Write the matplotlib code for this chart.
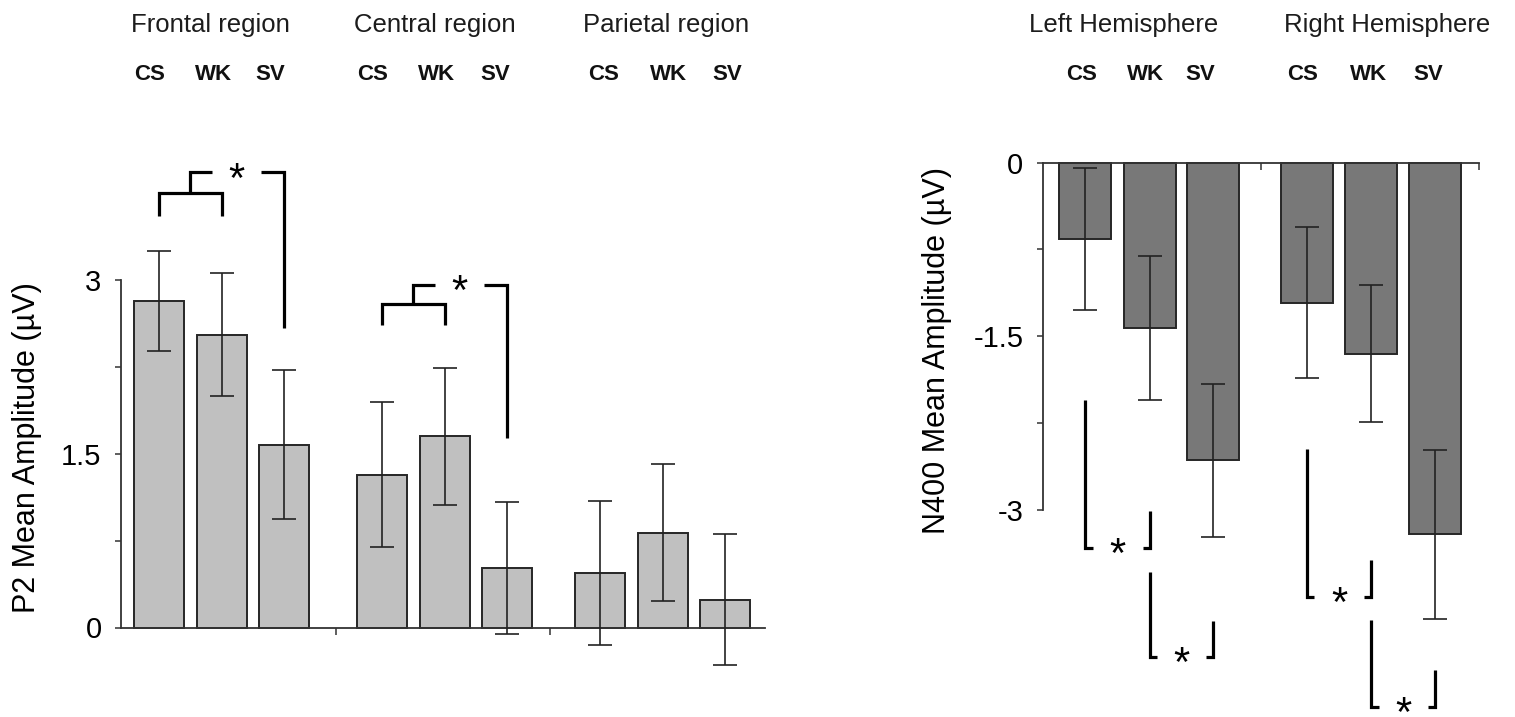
import matplotlib
matplotlib.use('Agg')
import matplotlib.pyplot as plt
import numpy as np

plt.rcParams['font.family'] = ['Liberation Sans', 'DejaVu Sans']

# ---------------- data ----------------
conditions = ['CS', 'WK', 'SV']
regions = ['Frontal region', 'Central region', 'Parietal region']
hemispheres = ['Left Hemisphere', 'Right Hemisphere']

# P2 mean amplitude (uV) per region: frontal, central, parietal
p2_cs = [2.82, 1.32, 0.47]
p2_wk = [2.53, 1.65, 0.82]
p2_sv = [1.58, 0.51, 0.24]
p2_cs_err = [0.435, 0.625, 0.62]
p2_wk_err = [0.535, 0.59, 0.59]
p2_sv_err = [0.645, 0.57, 0.565]

# N400 mean amplitude (uV) per hemisphere: left, right
n4_cs = [-0.66, -1.21]
n4_wk = [-1.43, -1.65]
n4_sv = [-2.57, -3.21]
n4_cs_err = [0.61, 0.65]
n4_wk_err = [0.62, 0.59]
n4_sv_err = [0.66, 0.73]

# significance brackets (P2): group, bar level, legs end, top level, SV leg end
p2_brackets = [(0, 3.75, 3.55, 3.93, 2.59), (1, 2.79, 2.61, 2.96, 1.64)]
# significance brackets (N400): group, cond i, cond j, left top, right top, bottom
n4_brackets = [(0, 0, 1, -2.05, -3.01, -3.33), (0, 1, 2, -3.54, -3.96, -4.27),
               (1, 0, 1, -2.47, -3.43, -3.75), (1, 1, 2, -3.95, -4.38, -4.70)]

# ---------------- layout ----------------
W, H = 1515, 717
fig = plt.figure(figsize=(W / 100, H / 100), dpi=100)


def axes_px(x0, x1, y_lo_px, y_hi_px):
    return fig.add_axes([x0 / W, 1 - y_lo_px / H, (x1 - x0) / W, (y_lo_px - y_hi_px) / H])

py_scale = 115.8
yl_left = (-0.75, 5.0)
axL = axes_px(121, 765, 627.5 - yl_left[0] * py_scale, 627.5 - yl_left[1] * py_scale)
axL.set_xlim(0, 3)
axL.set_ylim(*yl_left)

yl_right = (-4.85, 1.0)
axR = axes_px(1042.7, 1479, 162.5 - yl_right[0] * py_scale, 162.5 - yl_right[1] * py_scale)
axR.set_xlim(0, 2)
axR.set_ylim(*yl_right)

offsets = np.array([0.20, 0.495, 0.785])
shiftL = [-0.025, 0.015, 0.03]
shiftR = [-0.004, 0.012]

edge = '#262626'
ecol = '#222222'


def pos(g, j, shifts):
    return g + offsets[j] + shifts[g]


# ---- left bars ----
for j, (vals, errs) in enumerate(zip([p2_cs, p2_wk, p2_sv], [p2_cs_err, p2_wk_err, p2_sv_err])):
    xs = [pos(g, j, shiftL) for g in range(len(regions))]
    axL.bar(xs, vals, width=0.233, color='#c0c0c0', edgecolor=edge, linewidth=1.4, zorder=2)
    axL.errorbar(xs, vals, yerr=errs, fmt='none', ecolor=ecol, elinewidth=1.2,
                 capsize=8.3, capthick=1.2, zorder=3, clip_on=False)

# ---- right bars ----
for j, (vals, errs) in enumerate(zip([n4_cs, n4_wk, n4_sv], [n4_cs_err, n4_wk_err, n4_sv_err])):
    xs = [pos(g, j, shiftR) for g in range(len(hemispheres))]
    axR.bar(xs, vals, width=0.238, color='#787878', edgecolor=edge, linewidth=1.4, zorder=2)
    axR.errorbar(xs, vals, yerr=errs, fmt='none', ecolor=ecol, elinewidth=1.2,
                 capsize=8.5, capthick=1.2, zorder=3, clip_on=False)

# ---- axes styling ----
for ax, yb, xb in [(axL, (0, 3), (0, 3)), (axR, (-3, 0), (0, 2))]:
    for s in ['top', 'right']:
        ax.spines[s].set_visible(False)
    ax.spines['left'].set_bounds(*yb)
    ax.spines['bottom'].set_position(('data', 0))
    ax.spines['bottom'].set_bounds(*xb)
    for s in ['left', 'bottom']:
        ax.spines[s].set_color('#333333')
        ax.spines[s].set_linewidth(1.3)
    ax.tick_params(axis='y', direction='out', length=4, width=1.1, color='#333333',
                   pad=10, labelsize=21)
    ax.tick_params(axis='x', direction='out', length=5, width=1.1, color='#333333',
                   labelbottom=False)
    ax.set_facecolor('none')

axL.set_yticks([0, 0.75, 1.5, 2.25, 3])
axL.set_yticklabels(['0', '', '1.5', '', '3'])
axL.set_xticks([1, 2])
axR.set_yticks([0, -0.75, -1.5, -2.25, -3])
axR.set_yticklabels(['0', '', '-1.5', '', '-3'])
axR.set_xticks([1, 2])

blw = 2.3
star_fs = 30


def star(ax, x, y):
    ax.annotate('*', xy=(x, y), xytext=(0, -0.46 * star_fs), textcoords='offset points',
                ha='center', va='baseline', fontsize=star_fs, annotation_clip=False)


# ---- left brackets ----
for g, ylev, yleg, ytop, ysv in p2_brackets:
    xc, xw, xs_ = pos(g, 0, shiftL), pos(g, 1, shiftL), pos(g, 2, shiftL)
    stem = (xc + xw) / 2
    axL.plot([xc, xc, xw, xw], [yleg, ylev, ylev, yleg], color='k', lw=blw, clip_on=False,
             solid_joinstyle='miter', solid_capstyle='butt', zorder=4)
    axL.plot([stem, stem, stem + 0.10], [ylev, ytop, ytop], color='k', lw=blw, clip_on=False,
             solid_joinstyle='miter', solid_capstyle='butt', zorder=4)
    axL.plot([xs_ - 0.11, xs_, xs_], [ytop, ytop, ysv], color='k', lw=blw, clip_on=False,
             solid_joinstyle='miter', solid_capstyle='butt', zorder=4)
    star(axL, (stem + 0.10 + xs_ - 0.11) / 2, ytop)

# ---- right brackets ----
foot = 0.033
for g, i, j, ytl, ytr, ybot in n4_brackets:
    xa, xb = pos(g, i, shiftR), pos(g, j, shiftR)
    axR.plot([xa, xa, xa + foot], [ytl, ybot, ybot], color='k', lw=blw, clip_on=False,
             solid_joinstyle='miter', solid_capstyle='butt', zorder=4)
    axR.plot([xb - foot, xb, xb], [ybot, ybot, ytr], color='k', lw=blw, clip_on=False,
             solid_joinstyle='miter', solid_capstyle='butt', zorder=4)
    star(axR, (xa + xb) / 2, ybot)

# ---- header texts ----
def ftext(x, y, s, **kw):
    fig.text(x / W, 1 - y / H, s, **kw)

region_x = [210.8, 435, 665.8]
hemi_x = [1124, 1387.5]
cond_x_left = [[149.7, 213.3, 270], [372.7, 437, 495.7], [604, 668.3, 727.5]]
cond_x_right = [[1082, 1146, 1200.7], [1302.7, 1368.3, 1428.3]]

title_kw = dict(ha='center', va='baseline', fontsize=18.5, color='#1c1c1c')
cond_kw = dict(ha='center', va='baseline', fontsize=16, fontweight='bold', color='#111111',
               family=['Liberation Sans Narrow', 'Liberation Sans', 'DejaVu Sans'])

for name, x in zip(regions, region_x):
    ftext(x, 31.7, name, **title_kw)
for name, x in zip(hemispheres, hemi_x):
    ftext(x, 31.7, name, **title_kw)
for xs in cond_x_left + cond_x_right:
    for c, x in zip(conditions, xs):
        ftext(x, 80, c, **cond_kw)

ftext(27, 448, 'P2 Mean Amplitude (µV)', rotation=90, ha='center', va='center', fontsize=22)
ftext(937, 350, 'N400 Mean Amplitude (µV)', rotation=90, ha='center', va='center', fontsize=22)

fig.savefig('out.png', dpi=100)
